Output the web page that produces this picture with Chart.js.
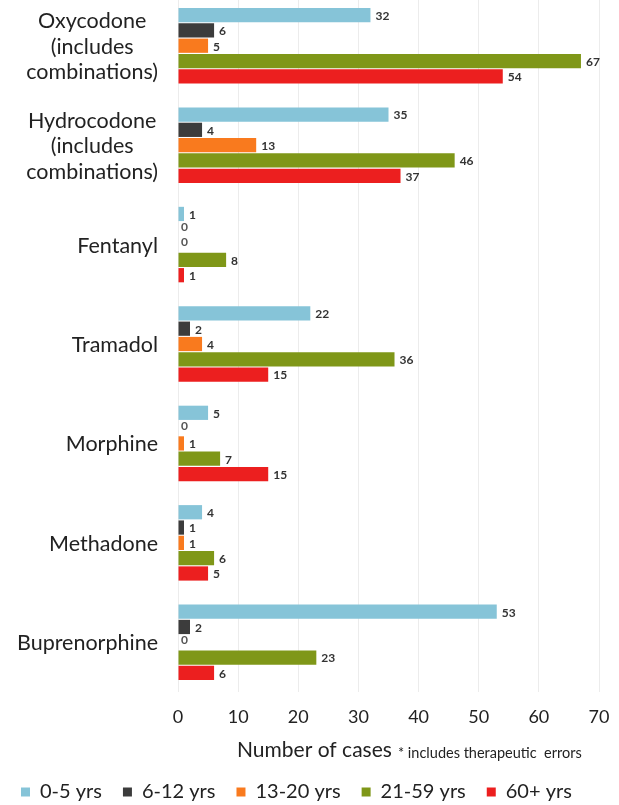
<!DOCTYPE html>
<html lang="en">
<head>
    <meta charset="UTF-8">
    <title>Opioid cases by age group</title>
    <script src="https://cdn.jsdelivr.net/npm/chart.js"></script>
    <style>
        html, body { margin: 0; padding: 0; background: #fff; overflow: hidden; }
        #wrap { position: absolute; left: 0; top: -4px; width: 619px; height: 816px; }
    </style>
</head>
<body>
    <div id="wrap">
        <canvas id="opioidChart"></canvas>
    </div>

    <script>
        // data
        const drugs = [
            ['Oxycodone', '(includes', 'combinations)'],
            ['Hydrocodone', '(includes', 'combinations)'],
            'Fentanyl',
            'Tramadol',
            'Morphine',
            'Methadone',
            'Buprenorphine'
        ];
        const ageGroups = ['0-5 yrs', '6-12 yrs', '13-20 yrs', '21-59 yrs', '60+ yrs'];
        const age0to5 = [32, 35, 1, 22, 5, 4, 53];
        const age6to12 = [6, 4, 0, 2, 0, 1, 2];
        const age13to20 = [5, 13, 0, 4, 1, 1, 0];
        const age21to59 = [67, 46, 8, 36, 7, 6, 23];
        const age60plus = [54, 37, 1, 15, 15, 5, 6];
        const xTicks = [0, 10, 20, 30, 40, 50, 60, 70];

        const colors = ['#86c4d8', '#3c3c3c', '#f97a1e', '#7f9718', '#ec1f1f'];
        const series = [age0to5, age6to12, age13to20, age21to59, age60plus];

        // value labels next to each bar
        const valueLabels = {
            id: 'valueLabels',
            afterDatasetsDraw(chart) {
                const ctx = chart.ctx;
                ctx.save();
                ctx.font = 'bold 12px Lato';
                ctx.textBaseline = 'middle';
                ctx.textAlign = 'left';
                chart.data.datasets.forEach((ds, i) => {
                    chart.getDatasetMeta(i).data.forEach((bar, j) => {
                        const v = ds.data[j];
                        ctx.fillStyle = v === 0 ? '#555' : '#333';
                        ctx.fillText(v, bar.x + (v === 0 ? 3 : 5), bar.y + (v === 0 ? -2 : 1));
                    });
                });
                ctx.restore();
            }
        };

        // category names: the label block sits right aligned, its lines centred
        const categoryLabels = {
            id: 'categoryLabels',
            afterDraw(chart) {
                const ctx = chart.ctx;
                const y = chart.scales.y;
                const right = 158;
                ctx.save();
                ctx.font = '21.5px Lato';
                ctx.fillStyle = '#222';
                ctx.textBaseline = 'middle';
                ctx.textAlign = 'center';
                drugs.forEach((name, i) => {
                    const cy = y.getPixelForTick(i);
                    const lines = Array.isArray(name) ? name : [name];
                    const w = Math.max(...lines.map(l => ctx.measureText(l).width));
                    const cx = right - w / 2;
                    const off = (lines.length - 1) / 2;
                    lines.forEach((line, k) => {
                        ctx.fillText(line, cx, cy + (k - off) * 25.5 + 1);
                    });
                });
                ctx.restore();
            }
        };

        // axis title with footnote
        const axisTitle = {
            id: 'axisTitle',
            afterDraw(chart) {
                const ctx = chart.ctx;
                const area = chart.chartArea;
                ctx.save();
                ctx.fillStyle = '#222';
                ctx.textBaseline = 'middle';
                ctx.textAlign = 'left';
                ctx.font = '21px Lato';
                ctx.fillText('Number of cases', 237, area.bottom + 58);
                ctx.font = '14.5px Lato';
                ctx.fillText('* includes therapeutic  errors', 398, area.bottom + 61);
                ctx.restore();
            }
        };

        const ctx = document.getElementById('opioidChart').getContext('2d');
        new Chart(ctx, {
            type: 'bar',
            data: {
                labels: drugs,
                datasets: ageGroups.map((g, i) => ({
                    label: g,
                    data: series[i],
                    backgroundColor: colors[i],
                    borderWidth: 0,
                    barPercentage: 0.93,
                    categoryPercentage: 0.77
                }))
            },
            options: {
                indexAxis: 'y',
                responsive: true,
                maintainAspectRatio: false,
                animation: false,
                layout: { padding: { left: 0, right: 20, top: 0, bottom: 0 } },
                scales: {
                    x: {
                        min: 0,
                        max: 70,
                        afterBuildTicks(scale) {
                            scale.ticks = xTicks.map(v => ({ value: v }));
                        },
                        afterFit(scale) {
                            scale.height = 69;
                            scale.paddingLeft = 0;
                            scale.paddingRight = 0;
                        },
                        grid: { color: '#ececec', drawTicks: false },
                        border: { display: false },
                        ticks: {
                            padding: 14,
                            color: '#222',
                            font: { family: 'Lato', size: 18 }
                        }
                    },
                    y: {
                        afterFit(scale) { scale.width = 178; },
                        grid: { display: false },
                        border: { display: false },
                        ticks: { display: false }
                    }
                },
                plugins: {
                    legend: {
                        position: 'bottom',
                        align: 'start',
                        labels: {
                            boxWidth: 9,
                            boxHeight: 9,
                            padding: 21,
                            color: '#222',
                            font: { family: 'Lato', size: 20 }
                        }
                    },
                    tooltip: { enabled: false }
                }
            },
            plugins: [valueLabels, categoryLabels, axisTitle]
        });
    </script>
</body>
</html>
